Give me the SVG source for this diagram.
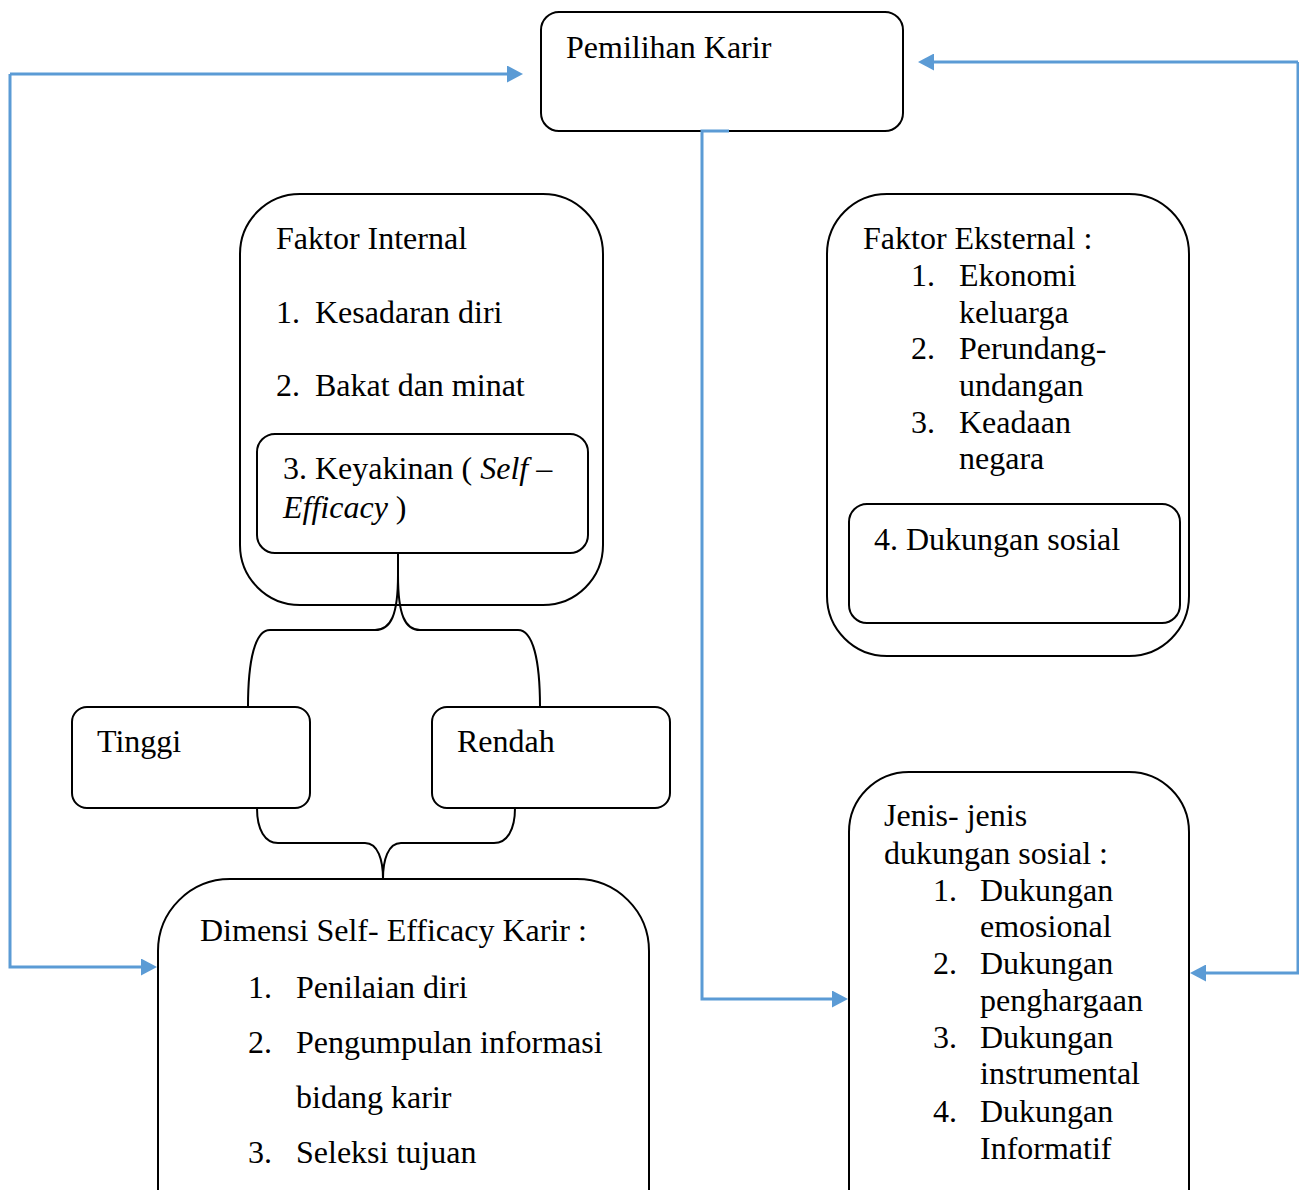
<svg xmlns="http://www.w3.org/2000/svg" width="1299" height="1190" viewBox="0 0 1299 1190">
<defs>
<marker id="ah" markerUnits="userSpaceOnUse" markerWidth="16" markerHeight="17" refX="0" refY="8.5" orient="auto">
<path d="M0,0 L16,8.5 L0,17 z" fill="#5B9BD5"/>
</marker>
<style>
.box{fill:#fff;stroke:#000;stroke-width:2}
.t{font-family:"Liberation Serif","Times New Roman",serif;font-size:32px;fill:#000}
.i{font-style:italic}
.br{fill:none;stroke:#000;stroke-width:2}
.c{fill:none;stroke:#5B9BD5;stroke-width:3;marker-end:url(#ah)}
</style>
</defs>
<rect width="1299" height="1190" fill="#fff"/>

<g id="pemilihan">
<rect class="box" x="541" y="12" width="362" height="119" rx="18"/>
<text class="t" x="566" y="58">Pemilihan Karir</text>
</g>

<g id="faktor-internal">
<rect class="box" x="240" y="194" width="363" height="411" rx="60"/>
<text class="t" x="276" y="249">Faktor Internal</text>
<text class="t" y="323"><tspan x="276">1.</tspan><tspan x="315">Kesadaran diri</tspan></text>
<text class="t" y="396"><tspan x="276">2.</tspan><tspan x="315">Bakat dan minat</tspan></text>
</g>

<g id="keyakinan">
<rect class="box" x="257" y="434" width="331" height="119" rx="18"/>
<text class="t" x="283" y="479">3. Keyakinan ( <tspan class="i">Self</tspan> –</text>
<text class="t" x="283" y="518"><tspan class="i">Efficacy</tspan> )</text>
</g>

<g id="tinggi">
<rect class="box" x="72" y="707" width="238" height="101" rx="15"/>
<text class="t" x="97" y="752">Tinggi</text>
</g>

<g id="rendah">
<rect class="box" x="432" y="707" width="238" height="101" rx="15"/>
<text class="t" x="457" y="752">Rendah</text>
</g>

<g id="dimensi">
<rect class="box" x="158" y="879" width="491" height="400" rx="72"/>
<text class="t" x="200" y="941">Dimensi Self- Efficacy Karir :</text>
<text class="t" y="998"><tspan x="248">1.</tspan><tspan x="296">Penilaian diri</tspan></text>
<text class="t" y="1053"><tspan x="248">2.</tspan><tspan x="296">Pengumpulan informasi</tspan></text>
<text class="t" x="296" y="1108">bidang karir</text>
<text class="t" y="1163"><tspan x="248">3.</tspan><tspan x="296">Seleksi tujuan</tspan></text>
</g>

<g id="faktor-eksternal">
<rect class="box" x="827" y="194" width="362" height="462" rx="60"/>
<text class="t" x="863" y="249">Faktor Eksternal :</text>
<text class="t" y="286"><tspan x="911">1.</tspan><tspan x="959">Ekonomi</tspan></text>
<text class="t" x="959" y="323">keluarga</text>
<text class="t" y="359"><tspan x="911">2.</tspan><tspan x="959">Perundang-</tspan></text>
<text class="t" x="959" y="396">undangan</text>
<text class="t" y="433"><tspan x="911">3.</tspan><tspan x="959">Keadaan</tspan></text>
<text class="t" x="959" y="469">negara</text>
</g>

<g id="dukungan-sosial">
<rect class="box" x="849" y="504" width="331" height="119" rx="18"/>
<text class="t" x="874" y="550">4. Dukungan sosial</text>
</g>

<g id="jenis">
<rect class="box" x="849" y="772" width="340" height="500" rx="60"/>
<text class="t" x="884" y="826">Jenis- jenis</text>
<text class="t" x="884" y="864">dukungan sosial :</text>
<text class="t" y="901"><tspan x="933">1.</tspan><tspan x="980">Dukungan</tspan></text>
<text class="t" x="980" y="937">emosional</text>
<text class="t" y="974"><tspan x="933">2.</tspan><tspan x="980">Dukungan</tspan></text>
<text class="t" x="980" y="1011">penghargaan</text>
<text class="t" y="1048"><tspan x="933">3.</tspan><tspan x="980">Dukungan</tspan></text>
<text class="t" x="980" y="1084">instrumental</text>
<text class="t" y="1122"><tspan x="933">4.</tspan><tspan x="980">Dukungan</tspan></text>
<text class="t" x="980" y="1159">Informatif</text>
</g>

<g id="connectors">
<path class="br" d="M398,553 L398,575 C398,615 391,630 375,630 L270,630 C255,630 248,660 248,707"/>
<path class="br" d="M398,553 L398,575 C398,615 405,630 420,630 L518,630 C533,630 540,660 540,707"/>
<path class="br" d="M257,808 C257,830 265,843 278,843 L365,843 C378,843 383,860 383,879"/>
<path class="br" d="M515,808 C515,830 507,843 494,843 L401,843 C388,843 383,860 383,879"/>
<path class="c" d="M10,74 L507,74"/>
<path class="c" d="M10,74 L10,967 L141,967"/>
<path class="c" d="M1298,62 L934,62"/>
<path class="c" d="M1298,62 L1298,973 L1206,973"/>
<path class="c" d="M729,131 L702,131 L702,999 L832,999"/>
</g>
</svg>
